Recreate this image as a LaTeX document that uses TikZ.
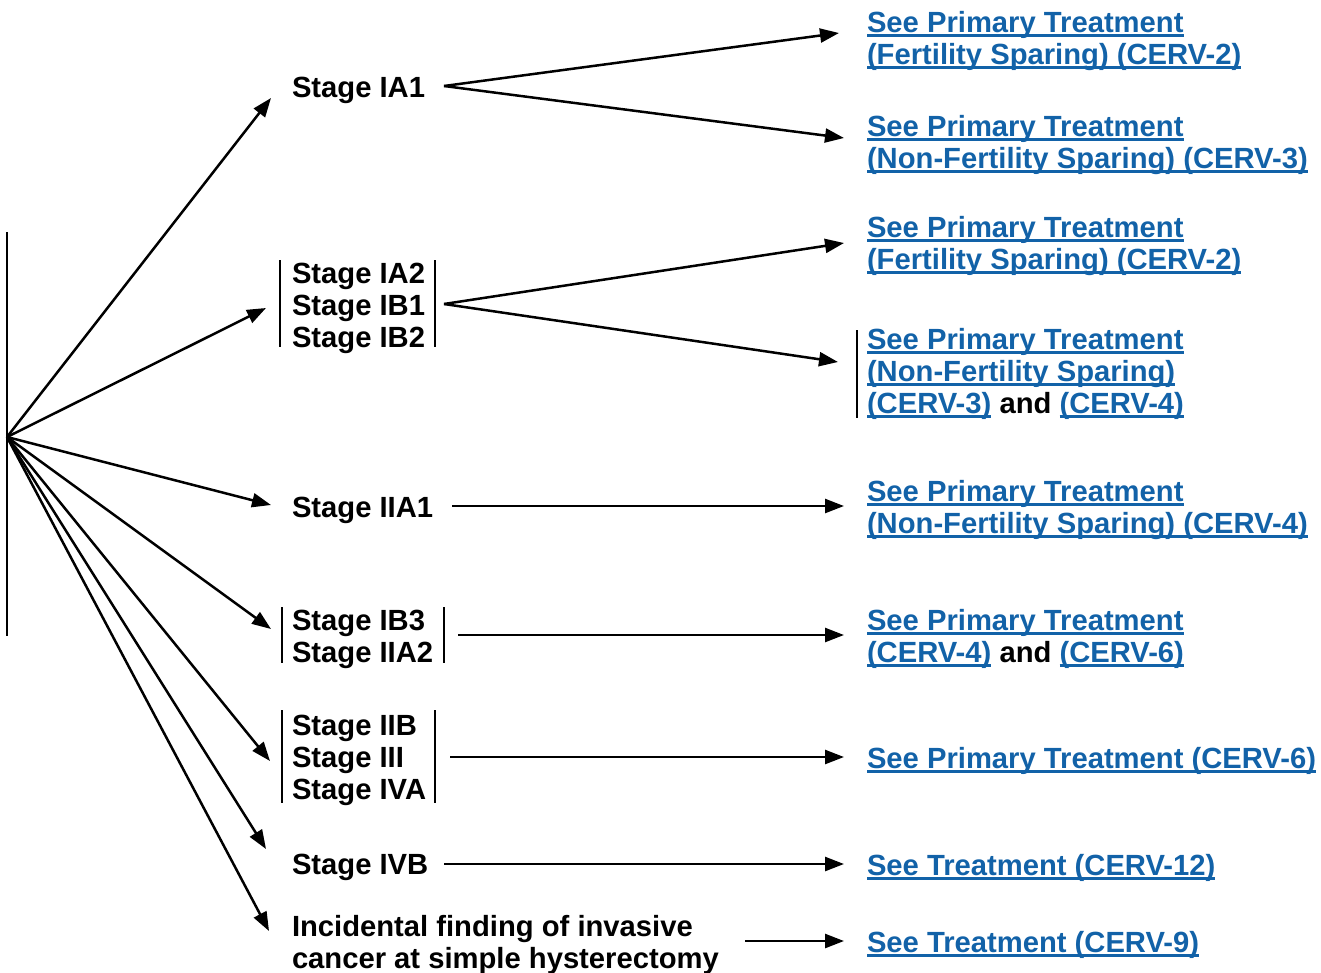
\documentclass[tikz,border=0pt]{standalone}
\usepackage{fontspec}
\setmainfont{Liberation Sans}
\usetikzlibrary{arrows.meta}
\definecolor{lnkc}{RGB}{18,98,168}
\newcommand\lnk[1]{{\color{lnkc}\setbox0=\hbox{#1}\rlap{\rule[-4.5pt]{\wd0}{2.3pt}}\box0}}
\newcommand\fs{\rule{0pt}{22pt}}
\begin{document}
\begin{tikzpicture}[x=1pt,y=-1pt,
  txt/.style={inner sep=0pt, outer sep=0pt, anchor=north west, align=left,
    font=\bfseries\fontsize{29.2}{32}\selectfont},
  arr/.style={line width=2.5pt, -{Triangle[length=19pt,width=14pt]}},
  bar/.style={line width=2.5pt}]
\useasboundingbox (0,0) rectangle (1321,972);
% left bar
\draw[bar] (7,232) -- (7,636);
\coordinate (o) at (7,437);
% stage nodes
\node[txt] (ia1) at (292,75) {\fs Stage IA1};
\node[txt] (g2) at (292,261) {\fs Stage IA2\\Stage IB1\\Stage IB2};
\node[txt] (iia1) at (292,495) {\fs Stage IIA1};
\node[txt] (g4) at (292,608) {\fs Stage IB3\\Stage IIA2};
\node[txt] (g5) at (292,713) {\fs Stage IIB\\Stage III\\Stage IVA};
\node[txt] (ivb) at (292,852) {\fs Stage IVB};
\node[txt] (inc) at (292,914) {\fs Incidental finding of invasive\\cancer at simple hysterectomy};
% link nodes
\node[txt] (l1) at (867,10) {\fs\lnk{See Primary Treatment}\\\lnk{(Fertility Sparing) (CERV-2)}};
\node[txt] (l2) at (867,114) {\fs\lnk{See Primary Treatment}\\\lnk{(Non-Fertility Sparing) (CERV-3)}};
\node[txt] (l3) at (867,215) {\fs\lnk{See Primary Treatment}\\\lnk{(Fertility Sparing) (CERV-2)}};
\node[txt] (l4) at (867,327) {\fs\lnk{See Primary Treatment}\\\lnk{(Non-Fertility Sparing)}\\\lnk{(CERV-3)} and \lnk{(CERV-4)}};
\node[txt] (l5) at (867,479) {\fs\lnk{See Primary Treatment}\\\lnk{(Non-Fertility Sparing) (CERV-4)}};
\node[txt] (l6) at (867,608) {\fs\lnk{See Primary Treatment}\\\lnk{(CERV-4)} and \lnk{(CERV-6)}};
\node[txt] (l7) at (867,746) {\fs\lnk{See Primary Treatment (CERV-6)}};
\node[txt] (l8) at (867,853) {\fs\lnk{See Treatment (CERV-12)}};
\node[txt] (l9) at (867,930) {\fs\lnk{See Treatment (CERV-9)}};
% bars
\draw[bar] (280,260) -- (280,347);
\draw[bar] (435,260) -- (435,347);
\draw[bar] (282,607) -- (282,663);
\draw[bar] (444,607) -- (444,663);
\draw[bar] (282,710) -- (282,803);
\draw[bar] (435,710) -- (435,803);
\draw[bar] (857,330) -- (857,418);
% arrow end coordinates
\coordinate (t1) at (271,98);
\coordinate (t2) at (266,308);
\coordinate (t3) at (271,505);
\coordinate (t4) at (271,629);
\coordinate (t5) at (270,761);
\coordinate (t6) at (266,849);
\coordinate (t7) at (269,931);
\foreach \t in {t1,t2,t3,t4,t5,t6,t7} \draw[arr] (o) -- (\t);
% stage to link arrows
\coordinate (s1) at (444,86);
\coordinate (s2) at (444,304);
\coordinate (s3) at (452,506);
\coordinate (s4) at (458,635);
\coordinate (s5) at (450,757);
\coordinate (s6) at (444,864);
\coordinate (s7) at (745,941);
\coordinate (e1a) at (839,33);
\coordinate (e1b) at (844,138);
\coordinate (e2a) at (844,243);
\coordinate (e2b) at (838,362);
\coordinate (e3) at (844,506);
\coordinate (e4) at (844,635);
\coordinate (e5) at (844,757);
\coordinate (e6) at (844,864);
\coordinate (e7) at (844,941);
\draw[arr] (s1) -- (e1a);
\draw[arr] (s1) -- (e1b);
\draw[arr] (s2) -- (e2a);
\draw[arr] (s2) -- (e2b);
\draw[arr] (s3) -- (e3);
\draw[arr] (s4) -- (e4);
\draw[arr] (s5) -- (e5);
\draw[arr] (s6) -- (e6);
\draw[arr] (s7) -- (e7);
\end{tikzpicture}
\end{document}
